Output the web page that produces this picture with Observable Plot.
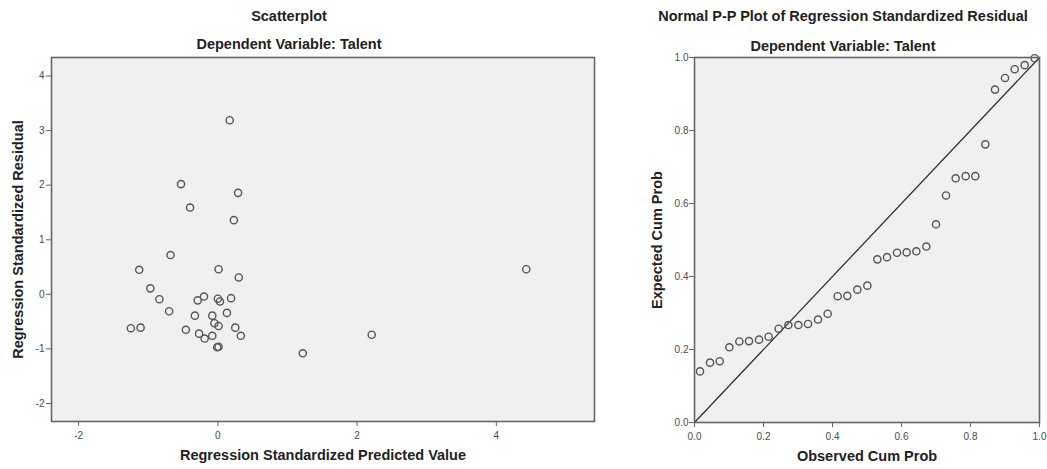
<!DOCTYPE html>
<html>
<head>
<meta charset="utf-8">
<script src="https://cdn.jsdelivr.net/npm/d3@7"></script>
<script src="https://cdn.jsdelivr.net/npm/@observablehq/plot@0.6"></script>
<style>
  html, body { margin: 0; padding: 0; background: #fff; }
  #wrap { position: relative; width: 1047px; height: 469px; overflow: hidden; }
  #left { position: absolute; left: 0; top: 0; }
  #right { position: absolute; left: 600px; top: 0; }
</style>
</head>
<body>
<div id="wrap"><div id="left"></div><div id="right"></div></div>
<script>
// Scatterplot data: regression standardized predicted value vs residual
const predicted = [0.17, -0.53, 0.29, -0.40, 0.23, -0.68, -1.13, 0.01, 0.30, -0.97,
  -0.84, -0.20, -0.29, 0.00, 0.03, 0.19, -0.70, -0.33, -0.08, 0.13,
  -0.05, 0.01, -1.25, -1.11, -0.46, 0.25, -0.27, 0.33, -0.19, -0.08,
  -0.01, 0.01, 1.22, 2.21, 4.43];
const residual = [3.19, 2.02, 1.86, 1.59, 1.36, 0.72, 0.45, 0.46, 0.31, 0.11,
  -0.09, -0.04, -0.11, -0.08, -0.13, -0.07, -0.31, -0.39, -0.39, -0.34,
  -0.53, -0.58, -0.62, -0.61, -0.65, -0.61, -0.72, -0.76, -0.81, -0.76,
  -0.97, -0.96, -1.08, -0.74, 0.46];

// Normal P-P plot data
const observedCum = [0.016, 0.045, 0.073, 0.101, 0.130, 0.158, 0.187, 0.215, 0.244, 0.272,
  0.301, 0.329, 0.358, 0.386, 0.415, 0.443, 0.472, 0.501, 0.530, 0.558,
  0.587, 0.615, 0.643, 0.672, 0.700, 0.729, 0.757, 0.786, 0.814, 0.843,
  0.871, 0.900, 0.928, 0.957, 0.986];
const expectedCum = [0.140, 0.164, 0.168, 0.206, 0.222, 0.223, 0.227, 0.235, 0.257, 0.267,
  0.267, 0.270, 0.282, 0.298, 0.346, 0.347, 0.364, 0.375, 0.447, 0.453,
  0.465, 0.466, 0.469, 0.482, 0.543, 0.622, 0.669, 0.675, 0.675, 0.762,
  0.912, 0.944, 0.968, 0.979, 0.998];
const diagonal = [0, 1];

const scatterXTicks = [-2, 0, 2, 4];
const scatterYTicks = [-2, -1, 0, 1, 2, 3, 4];
const ppTicks = [0, 0.2, 0.4, 0.6, 0.8, 1.0];

const font = "'Liberation Sans', Arial, sans-serif";
const tickColor = "#4a4a4a";
const textColor = "#222";
const bg = "#f0f0f0";
const frameColor = "#666";
const pointColor = "#555";
const titleSize = 14.5;

const scatterData = predicted.map((x, i) => ({x, y: residual[i]}));
const ppData = observedCum.map((x, i) => ({x, y: expectedCum[i]}));

const left = Plot.plot({
  width: 600, height: 469,
  marginLeft: 51, marginRight: 6, marginTop: 57, marginBottom: 48,
  style: {fontFamily: font, fontSize: "10px", background: "#fff", overflow: "visible"},
  x: {domain: [-2.39, 5.41], ticks: scatterXTicks, label: null},
  y: {domain: [-2.33, 4.34], ticks: scatterYTicks, label: null},
  marks: [
    Plot.frame({fill: bg, stroke: null}),
    Plot.axisX({ticks: scatterXTicks, tickSize: 5, tickPadding: 5, stroke: frameColor, fill: tickColor, tickFormat: d => String(d)}),
    Plot.axisY({ticks: scatterYTicks, tickSize: 5, tickPadding: 2, stroke: frameColor, fill: tickColor, tickFormat: d => String(d)}),
    Plot.dot(scatterData, {x: "x", y: "y", r: 3.6, stroke: pointColor, strokeWidth: 1.4, fill: "none"}),
    Plot.frame({stroke: frameColor, strokeWidth: 1.6}),
    Plot.text(["Scatterplot"], {frameAnchor: "top", dx: -34, dy: -47, fontSize: titleSize, fontWeight: "bold", fill: textColor}),
    Plot.text(["Dependent Variable: Talent"], {frameAnchor: "top", dx: -34, dy: -19, fontSize: titleSize, fontWeight: "bold", fill: textColor}),
    Plot.text(["Regression Standardized Predicted Value"], {frameAnchor: "bottom", dy: 38, fontSize: titleSize, fontWeight: "bold", fill: textColor}),
    Plot.text(["Regression Standardized Residual"], {frameAnchor: "left", textAnchor: "middle", dx: -33, rotate: -90, fontSize: titleSize, fontWeight: "bold", fill: textColor})
  ]
});
document.getElementById("left").appendChild(left);

const right = Plot.plot({
  width: 447, height: 469,
  marginLeft: 94, marginRight: 8, marginTop: 57, marginBottom: 47,
  style: {fontFamily: font, fontSize: "10px", background: "#fff", overflow: "visible"},
  x: {domain: [0, 1], ticks: ppTicks, label: null},
  y: {domain: [0, 1], ticks: ppTicks, label: null},
  marks: [
    Plot.frame({fill: bg, stroke: null}),
    Plot.axisX({ticks: ppTicks, tickSize: 5, tickPadding: 5, stroke: frameColor, fill: tickColor, tickFormat: d3.format(".1f")}),
    Plot.axisY({ticks: ppTicks, tickSize: 5, tickPadding: 1, stroke: frameColor, fill: tickColor, tickFormat: d3.format(".1f")}),
    Plot.line(diagonal.map(v => ({x: v, y: v})), {x: "x", y: "y", stroke: "#333", strokeWidth: 1.3}),
    Plot.dot(ppData, {x: "x", y: "y", r: 3.6, stroke: pointColor, strokeWidth: 1.4, fill: "none"}),
    Plot.frame({stroke: frameColor, strokeWidth: 1.6}),
    Plot.text(["Normal P-P Plot of Regression Standardized Residual"], {frameAnchor: "top", dx: -24, dy: -47, fontSize: titleSize, fontWeight: "bold", fill: textColor}),
    Plot.text(["Dependent Variable: Talent"], {frameAnchor: "top", dx: -24, dy: -17, fontSize: titleSize, fontWeight: "bold", fill: textColor}),
    Plot.text(["Observed Cum Prob"], {frameAnchor: "bottom", dy: 38, fontSize: titleSize, fontWeight: "bold", fill: textColor}),
    Plot.text(["Expected Cum Prob"], {frameAnchor: "left", textAnchor: "middle", dx: -37, rotate: -90, fontSize: titleSize, fontWeight: "bold", fill: textColor})
  ]
});
document.getElementById("right").appendChild(right);
</script>
</body>
</html>
